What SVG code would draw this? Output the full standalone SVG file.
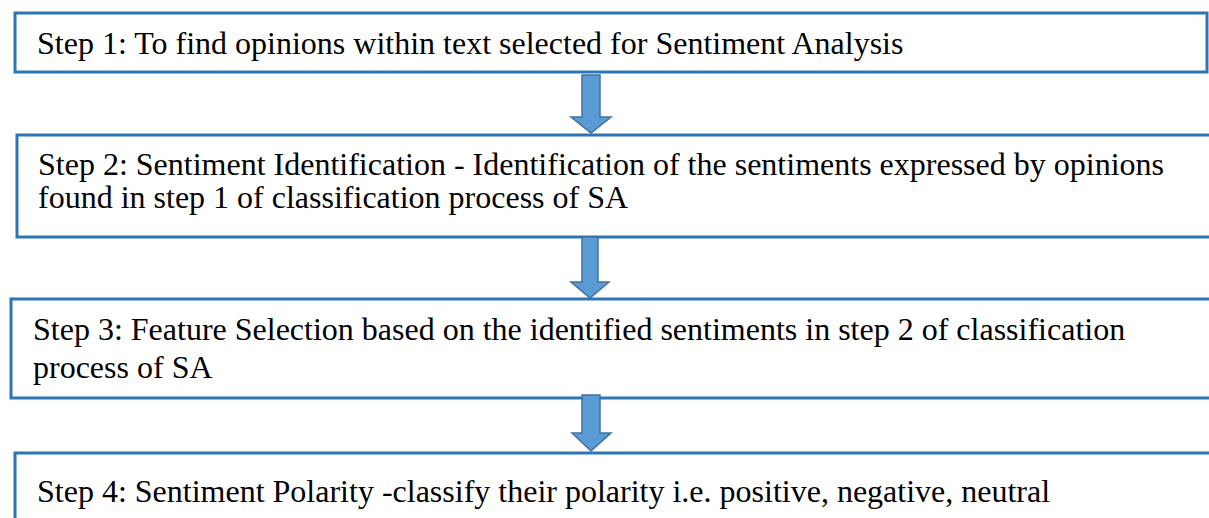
<svg xmlns="http://www.w3.org/2000/svg" width="1209" height="518" viewBox="0 0 1209 518">
  <style>
    .box { fill: #ffffff; stroke: #2e75b6; stroke-width: 3; }
    .lbl { font-family: "Liberation Serif", "Times New Roman", serif; font-size: 32px; fill: #000000; }
    .arrow { fill: #5b9bd5; stroke: #41719c; stroke-width: 1.5; }
  </style>
  <rect x="0" y="0" width="1209" height="518" fill="#ffffff"/>

  <g id="step1">
    <rect class="box" x="15" y="13" width="1192" height="59"/>
    <text class="lbl" x="37" y="54">Step 1: To find opinions within text selected for Sentiment Analysis</text>
  </g>

  <g id="step2">
    <rect class="box" x="17" y="135" width="1200" height="102"/>
    <text class="lbl" x="38" y="175">Step 2: Sentiment Identification - Identification of the sentiments expressed by opinions</text>
    <text class="lbl" x="38" y="208">found in step 1 of classification process of SA</text>
  </g>

  <g id="step3">
    <rect class="box" x="11" y="299" width="1206" height="99"/>
    <text class="lbl" x="33" y="340">Step 3: Feature Selection based on the identified sentiments in step 2 of classification</text>
    <text class="lbl" x="33" y="378">process of SA</text>
  </g>

  <g id="step4">
    <rect class="box" x="15" y="453" width="1202" height="80"/>
    <text class="lbl" x="37" y="502">Step 4: Sentiment Polarity -classify their polarity i.e. positive, negative, neutral</text>
  </g>

  <g id="connectors">
    <polygon class="arrow" points="582,75 600,75 600,117 611,117 591,133 571,117 582,117"/>
    <polygon class="arrow" points="582,237 598,237 598,282 609,282 590,298 571,282 582,282"/>
    <polygon class="arrow" points="582,395 600,395 600,433 611,433 591,451 572,433 582,433"/>
  </g>
</svg>
